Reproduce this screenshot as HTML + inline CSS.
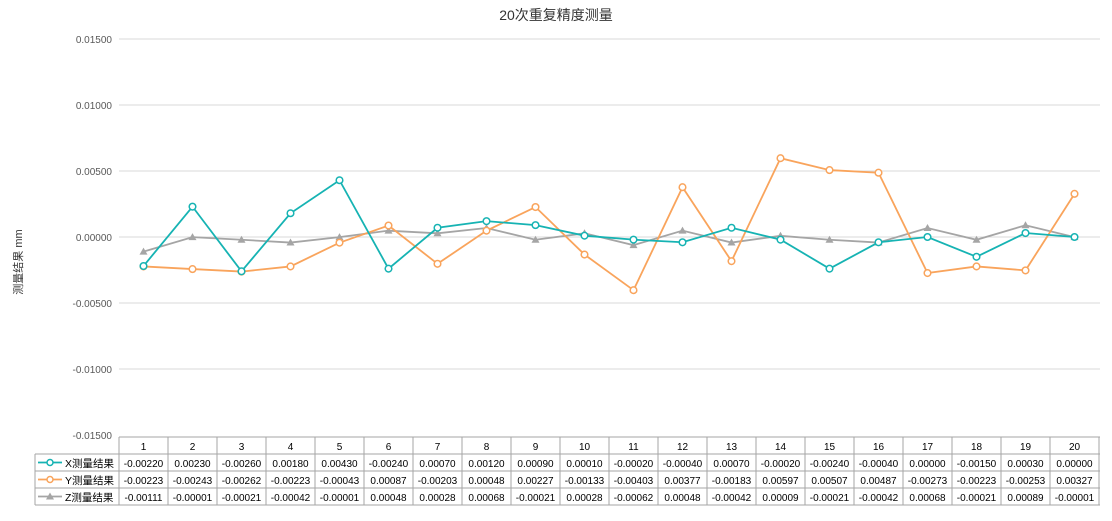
<!DOCTYPE html>
<html><head><meta charset="utf-8"><style>
body{margin:0;background:#fff;}
svg{display:block;font-family:"Liberation Sans","Noto Sans CJK SC",sans-serif;}
</style></head><body>
<svg id="s" width="1112" height="521" xmlns="http://www.w3.org/2000/svg"></svg>
<script>
const X=[-0.00220,0.00230,-0.00260,0.00180,0.00430,-0.00240,0.00070,0.00120,0.00090,0.00010,-0.00020,-0.00040,0.00070,-0.00020,-0.00240,-0.00040,0.00000,-0.00150,0.00030,0.00000];
const Y=[-0.00223,-0.00243,-0.00262,-0.00223,-0.00043,0.00087,-0.00203,0.00048,0.00227,-0.00133,-0.00403,0.00377,-0.00183,0.00597,0.00507,0.00487,-0.00273,-0.00223,-0.00253,0.00327];
const Z=[-0.00111,-0.00001,-0.00021,-0.00042,-0.00001,0.00048,0.00028,0.00068,-0.00021,0.00028,-0.00062,0.00048,-0.00042,0.00009,-0.00021,-0.00042,0.00068,-0.00021,0.00089,-0.00001];
let h='';
h+='<text x="556" y="20" font-size="14" text-anchor="middle" fill="#333">20次重复精度测量</text>';
h+='<text transform="translate(22,262) rotate(-90)" font-size="11" text-anchor="middle" fill="#333">测量结果 mm</text>';
const ticks=[0.015,0.01,0.005,0,-0.005,-0.01,-0.015];
const py=v=>237-v*13200;
ticks.forEach(t=>{const y=py(t);
 if(t>-0.015)h+=`<line x1="119" x2="1100" y1="${y}" y2="${y}" stroke="#d9d9d9"/>`;
 h+=`<text x="112" y="${y+4}" font-size="10" text-anchor="end" fill="#595959">${t.toFixed(5)}</text>`;});
const cx=i=>143.5+49*i;
function ser(d,c,tri){let p=d.map((v,i)=>cx(i)+','+py(v)).join(' ');
 h+=`<polyline points="${p}" fill="none" stroke="${c}" stroke-width="1.8"/>`;
 d.forEach((v,i)=>{const x=cx(i),y=py(v);
  if(tri)h+=`<polygon points="${x},${y-4} ${x-4},${y+3} ${x+4},${y+3}" fill="${c}"/>`;
  else h+=`<circle cx="${x}" cy="${y}" r="3.3" fill="#fff" stroke="${c}" stroke-width="1.5"/>`;});}
ser(Z,'#a5a5a5',true);ser(Y,'#f9a45c',false);ser(X,'#16b3b3',false);
// table
const g='#a6a6a6';
const rows=[437,454,471,488,505];
h+=`<line x1="119" x2="1100" y1="437" y2="437" stroke="${g}"/>`;
for(let r=1;r<5;r++)h+=`<line x1="35" x2="1100" y1="${rows[r]}" y2="${rows[r]}" stroke="${g}"/>`;
h+=`<line x1="35" x2="35" y1="454" y2="505" stroke="${g}"/>`;
for(let i=0;i<=20;i++){const x=119+49*i;h+=`<line x1="${x}" x2="${x}" y1="437" y2="505" stroke="${g}"/>`;}
for(let i=0;i<20;i++)h+=`<text x="${cx(i)}" y="450" font-size="10" text-anchor="middle" fill="#000">${i+1}</text>`;
const fmt=v=>v.toFixed(5);
[[X,'X','#16b3b3',0],[Y,'Y','#f9a45c',0],[Z,'Z','#a5a5a5',1]].forEach((s,r)=>{
 const y=rows[r+1]+13,my=rows[r+1]+8.5;
 h+=`<line x1="38" x2="62" y1="${my}" y2="${my}" stroke="${s[2]}" stroke-width="1.8"/>`;
 if(s[3])h+=`<polygon points="50,${my-4} 46,${my+3} 54,${my+3}" fill="${s[2]}"/>`;
 else h+=`<circle cx="50" cy="${my}" r="3" fill="#fff" stroke="${s[2]}" stroke-width="1.5"/>`;
 h+=`<text x="65" y="${y}" font-size="10.5" fill="#000">${s[1]}测量结果</text>`;
 s[0].forEach((v,i)=>h+=`<text x="${cx(i)}" y="${y}" font-size="10" text-anchor="middle" fill="#000">${fmt(v)}</text>`);});
document.getElementById('s').innerHTML=h;
</script>
</body></html>
